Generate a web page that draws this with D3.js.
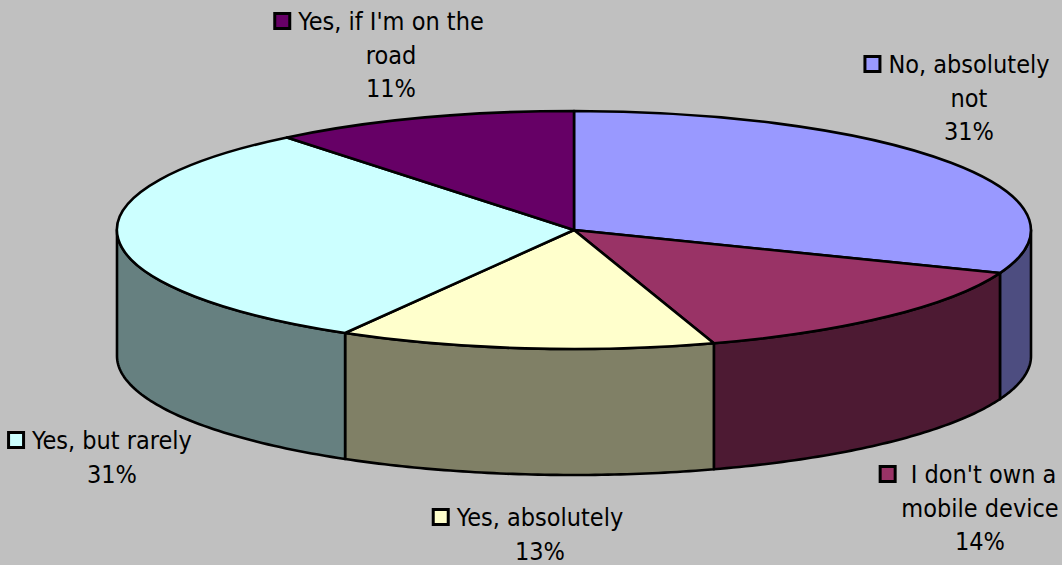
<!DOCTYPE html>
<html><head><meta charset="utf-8">
<script src="https://cdn.jsdelivr.net/npm/d3@7"></script>
<style>html,body{margin:0;padding:0;background:#c0c0c0}svg{display:block}
text{font-family:"DejaVu Sans Condensed","DejaVu Sans",sans-serif;font-stretch:condensed;font-size:25px;fill:#000}</style>
</head><body><svg id="c" width="1062" height="565"></svg>
<script>
const categories=["No, absolutely not","I don't own a mobile device","Yes, absolutely","Yes, but rarely","Yes, if I'm on the road"];
const values=[30.9,14.15,13.3,30.85,10.8];
const topColors=["#9999ff","#993366","#ffffcc","#ccffff","#660066"];
const sideColors=["#4d4d80","#4d1a33","#808066","#668080","#330033"];
const labelLines=[["No, absolutely","not"],[" I don't own a","mobile device"],["Yes, absolutely"],["Yes, but rarely"],["Yes, if I'm on the","road"]];
const percentLabels=["31%","14%","13%","31%","11%"];
const labelAnchors=[[969,65],[980,475],[540,518],[112,441],[391,22]];

const W=1062,H=565,cx=574,cy=230,rx=457,ry=119,depth=126;
const svg=d3.select("#c");
const slices=d3.pie().sort(null).value(d=>d)(values);
const px=a=>cx+rx*Math.sin(a), py=a=>cy-ry*Math.cos(a);
const sideG=svg.append("g"), topG=svg.append("g"), lblG=svg.append("g");

const lo=Math.PI/2, hi=Math.PI*1.5;
function wall(a0,a1){
  const n=60,t=d3.range(n+1).map(i=>a0+(a1-a0)*i/n);
  const line=d3.line();
  return line(t.map(a=>[px(a),py(a)]).concat(t.slice().reverse().map(a=>[px(a),py(a)+depth])))+"Z";
}
slices.forEach((s,i)=>{
  const a0=Math.max(s.startAngle,lo),a1=Math.min(s.endAngle,hi);
  if(a1>a0) sideG.append("path").attr("d",wall(a0,a1)).attr("fill",sideColors[i]).attr("stroke","#000").attr("stroke-width",2.6).attr("stroke-linejoin","round");
});
const arc=d3.arc().innerRadius(0).outerRadius(1);
slices.forEach((s,i)=>{
  topG.append("path").attr("d",arc({startAngle:s.startAngle,endAngle:s.endAngle}))
    .attr("transform",`translate(${cx},${cy}) scale(${rx},${ry})`)
    .attr("fill",topColors[i]).attr("stroke","#000").attr("stroke-width",2.6)
    .attr("vector-effect","non-scaling-stroke").attr("stroke-linejoin","round");
});
const lh=33.5;
categories.forEach((c,i)=>{
  const [ax,ay]=labelAnchors[i];
  const lines=labelLines[i];
  const g=lblG.append("g");
  lines.forEach((t,j)=>g.append("text").attr("x",ax).attr("y",ay+j*lh+8).attr("text-anchor","middle").attr("xml:space","preserve").text(t));
  g.append("text").attr("x",ax).attr("y",ay+lines.length*lh+8).attr("text-anchor","middle").text(percentLabels[i]);
  const w=g.select("text").node().getComputedTextLength();
  g.append("rect").attr("x",ax-w/2-23.5).attr("y",ay-8.5).attr("width",15).attr("height",15)
    .attr("fill",topColors[i]).attr("stroke","#000").attr("stroke-width",3);
});
</script></body></html>
